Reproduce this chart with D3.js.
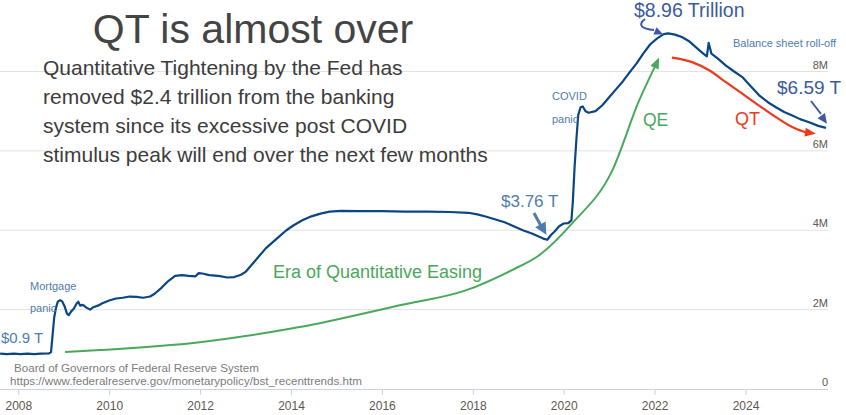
<!DOCTYPE html>
<html><head><meta charset="utf-8">
<script src="https://cdn.jsdelivr.net/npm/d3@7/dist/d3.min.js"></script>
<style>body{margin:0;background:#fff}svg{display:block;font-family:"Liberation Sans",Arial,sans-serif}</style>
</head><body><svg id="c" width="846" height="415"></svg>
<script>
// ---- data ----
const bsYear = [2007.60,2007.75,2007.90,2008.05,2008.20,2008.35,2008.50,2008.68,2008.72,2008.75,2008.79,2008.83,2008.87,2008.92,2008.97,2009.02,2009.07,2009.11,2009.16,2009.22,2009.28,2009.32,2009.36,2009.42,2009.50,2009.58,2009.65,2009.75,2009.85,2010.00,2010.15,2010.30,2010.45,2010.60,2010.75,2010.90,2011.00,2011.15,2011.30,2011.45,2011.60,2011.75,2011.90,2011.97,2012.05,2012.20,2012.40,2012.60,2012.75,2012.90,2013.00,2013.15,2013.30,2013.45,2013.60,2013.75,2013.90,2014.05,2014.25,2014.45,2014.65,2014.85,2015.10,2015.50,2016.00,2016.50,2017.00,2017.50,2017.90,2018.10,2018.30,2018.50,2018.70,2018.90,2019.10,2019.30,2019.45,2019.55,2019.64,2019.72,2019.80,2019.90,2020.00,2020.10,2020.17,2020.20,2020.24,2020.28,2020.32,2020.37,2020.42,2020.48,2020.55,2020.70,2020.85,2021.00,2021.15,2021.30,2021.45,2021.60,2021.75,2021.90,2022.05,2022.20,2022.30,2022.45,2022.60,2022.75,2022.90,2023.05,2023.15,2023.19,2023.25,2023.40,2023.57,2023.75,2023.93,2024.10,2024.30,2024.50,2024.67,2024.85,2025.03,2025.20,2025.40,2025.60,2025.77];
const bsValue = [0.89,0.88,0.89,0.88,0.89,0.88,0.89,0.90,0.93,1.30,1.80,2.05,2.20,2.24,2.20,2.08,1.90,1.86,1.95,2.02,2.15,2.20,2.10,2.12,2.05,2.00,2.06,2.10,2.16,2.23,2.28,2.30,2.33,2.32,2.30,2.33,2.40,2.55,2.72,2.85,2.87,2.85,2.84,2.92,2.91,2.87,2.85,2.81,2.82,2.88,2.95,3.15,3.35,3.55,3.70,3.85,4.00,4.12,4.25,4.35,4.42,4.47,4.49,4.48,4.48,4.47,4.47,4.46,4.44,4.40,4.34,4.27,4.20,4.10,4.00,3.92,3.84,3.79,3.76,3.88,3.97,4.10,4.17,4.18,4.25,4.70,5.60,6.30,6.90,7.10,7.12,7.00,6.96,7.00,7.15,7.35,7.55,7.75,7.98,8.20,8.45,8.68,8.83,8.94,8.96,8.93,8.87,8.77,8.62,8.47,8.38,8.72,8.45,8.32,8.15,8.00,7.86,7.65,7.40,7.22,7.10,6.98,6.89,6.80,6.72,6.63,6.58];
const qeYear = [2009.03,2009.80,2011.99,2014.19,2016.39,2017.86,2018.85,2019.46,2020.19,2021.07,2021.66,2022.10];
const qeValue = [0.93,0.98,1.18,1.56,2.11,2.49,2.99,3.37,4.18,5.51,7.27,8.35];
const qtYear = [2022.38,2022.84,2023.20,2023.57,2023.93,2024.30,2024.67,2025.03,2025.33,2025.55];
const qtValue = [8.35,8.23,8.03,7.73,7.44,7.14,6.85,6.60,6.47,6.43];
const xTicks = [2008,2010,2012,2014,2016,2018,2020,2022,2024];
const yTicks = [0,2,4,6,8];
const yTickLabels = ["0","2M","4M","6M","8M"];

// ---- chart ----
const svg = d3.select("#c");
const x = d3.scaleLinear().domain([2008,2024]).range([18.3,745.5]);
const y = d3.scaleLinear().domain([0,8]).range([389,71.5]);
const right = 828;

// gridlines
svg.append("g").selectAll("line").data(yTicks.filter(d=>d>0)).join("line")
  .attr("x1",0).attr("x2",right).attr("y1",d=>y(d)).attr("y2",d=>y(d))
  .attr("stroke","#e2e2e2").attr("stroke-width",1);
// y labels
svg.append("g").selectAll("text").data(yTicks).join("text")
  .attr("x",right).attr("y",(d)=>y(d)-3).attr("text-anchor","end")
  .attr("font-size",11).attr("fill","#5e5650").text((d,i)=>yTickLabels[i]);

// x axis
const xa = svg.append("g").attr("transform","translate(0,389)")
  .call(d3.axisBottom(x).tickValues(xTicks).tickFormat(d3.format("d")).tickSize(6).tickPadding(6));
xa.select(".domain").attr("d",`M0,0.5H${right}`).attr("stroke","#c6d3e6");
xa.selectAll(".tick line").attr("stroke","#c6d3e6");
xa.selectAll(".tick text").attr("font-size",12).attr("fill","#5e5650").attr("font-family","Liberation Sans, Arial, sans-serif");

// source
svg.append("text").attr("x",14).attr("y",372).attr("font-size",11.6).attr("fill","#7c7c7c").text("Board of Governors of Federal Reserve System");
svg.append("text").attr("x",10).attr("y",385).attr("font-size",11.6).attr("fill","#7c7c7c").text("https://www.federalreserve.gov/monetarypolicy/bst_recenttrends.htm");

function arrowHead(g, x1,y1,x2,y2,len,wid,color){
  const a = Math.atan2(y2-y1,x2-x1);
  const bx = x2-len*Math.cos(a), by = y2-len*Math.sin(a);
  const px = -Math.sin(a)*wid/2, py = Math.cos(a)*wid/2;
  g.append("path").attr("d",`M${x2},${y2}L${bx+px},${by+py}L${bx-px},${by-py}Z`).attr("fill",color);
}
function curveWithArrow(xs,vs,color,w){
  const pts = xs.map((d,i)=>[x(d),y(vs[i])]);
  const n = pts.length;
  const a = Math.atan2(pts[n-1][1]-pts[n-2][1],pts[n-1][0]-pts[n-2][0]);
  const trimmed = pts.slice(); trimmed[n-1] = [pts[n-1][0]-8*Math.cos(a), pts[n-1][1]-8*Math.sin(a)];
  svg.append("path").attr("d",d3.line().curve(d3.curveMonotoneX)(trimmed))
    .attr("fill","none").attr("stroke",color).attr("stroke-width",w);
  arrowHead(svg,pts[n-2][0],pts[n-2][1],pts[n-1][0],pts[n-1][1],11,9,color);
}
curveWithArrow(qeYear,qeValue,"#4aa85a",2);
curveWithArrow(qtYear,qtValue,"#ee3a1a",2.2);

// main series
svg.append("path").datum(bsYear.map((d,i)=>[d,bsValue[i]]))
  .attr("d",d3.line().x(d=>x(d[0])).y(d=>y(d[1])))
  .attr("fill","none").attr("stroke","#0b4682").attr("stroke-width",2.2).attr("stroke-linejoin","round");

// titles
svg.append("text").attr("x",253).attr("y",43).attr("text-anchor","middle").attr("font-size",41).attr("fill","#444").text("QT is almost over");
const sub = ["Quantitative Tightening by the Fed has","removed $2.4 trillion from the banking","system since its excessive post COVID","stimulus peak will end over the next few months"];
svg.append("g").selectAll("text").data(sub).join("text")
  .attr("x",43).attr("y",(d,i)=>75+i*29).attr("font-size",21).attr("fill","#3c3c3c").text(d=>d);

// annotations
const steel = "#4f7cac", indigo = "#3c5aa2";
const ann = svg.append("g");
ann.append("text").attr("x",1).attr("y",343).attr("font-size",15).attr("fill",steel).text("$0.9 T");
ann.append("text").attr("x",30).attr("y",290).attr("font-size",11).attr("fill",steel).text("Mortgage");
ann.append("text").attr("x",30).attr("y",312).attr("font-size",11).attr("fill",steel).text("panic");
ann.append("text").attr("x",273).attr("y",278).attr("font-size",18).attr("fill","#4aa85a").text("Era of Quantitative Easing");
ann.append("text").attr("x",501).attr("y",207).attr("font-size",17).attr("fill",steel).text("$3.76 T");
ann.append("line").attr("x1",534).attr("y1",213).attr("x2",541).attr("y2",226).attr("stroke",steel).attr("stroke-width",3);
arrowHead(ann,534,213,x(2019.64)-1,y(3.76)-5,12,12,steel);
ann.append("text").attr("x",552).attr("y",100).attr("font-size",11).attr("fill",steel).text("COVID");
ann.append("text").attr("x",552).attr("y",123).attr("font-size",11).attr("fill",steel).text("panic");
ann.append("text").attr("x",643).attr("y",126).attr("font-size",17.5).attr("fill","#4aa85a").text("QE");
ann.append("text").attr("x",735).attr("y",125).attr("font-size",18).attr("fill","#ee3a1a").text("QT");
ann.append("text").attr("x",634).attr("y",17).attr("font-size",19.5).attr("fill",indigo).text("$8.96 Trillion");
ann.append("path").attr("d","M645,19 C637,25 642,29 654,30").attr("fill","none").attr("stroke",indigo).attr("stroke-width",2);
arrowHead(ann,652,29.5,x(2022.3)-5,y(8.96)+1,9,8,indigo);
ann.append("text").attr("x",733).attr("y",47).attr("font-size",11).attr("fill",steel).text("Balance sheet roll-off");
ann.append("text").attr("x",777).attr("y",94).attr("font-size",19).attr("fill",indigo).text("$6.59 T");
ann.append("line").attr("x1",811).attr("y1",101).attr("x2",821).attr("y2",114).attr("stroke",indigo).attr("stroke-width",2);
arrowHead(ann,811,101,x(2025.77)+1,y(6.58)-4,10,9,indigo);
</script></body></html>
